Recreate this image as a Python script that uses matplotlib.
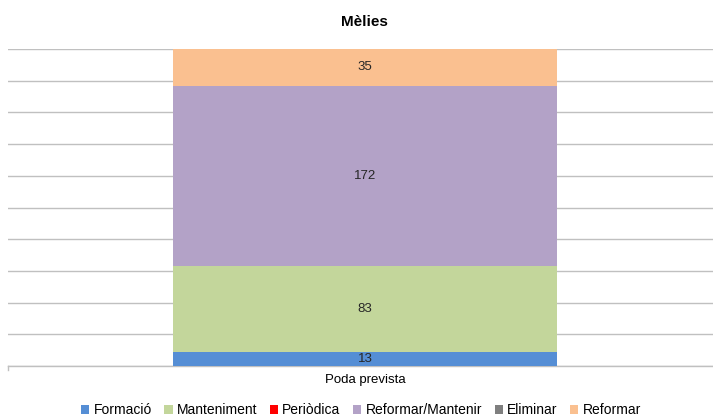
import matplotlib
matplotlib.use('Agg')
import matplotlib.pyplot as plt
from matplotlib.patches import Patch
import numpy as np

plt.rcParams['font.family'] = ['Liberation Sans', 'DejaVu Sans']

# ── Data ──────────────────────────────────────────────────────────────────────
category = 'Poda prevista'
series   = ['Formació', 'Manteniment', 'Periòdica', 'Reformar/Mantenir', 'Eliminar', 'Reformar']
values   = [13, 83, 0, 172, 0, 35]
colors   = ['#558ED5', '#C3D69B', '#FF0000', '#B3A2C7', '#7F7F7F', '#FAC090']

total = sum(values)
shares = [100.0 * v / total for v in values]

fig = plt.figure(figsize=(7.13, 4.17), dpi=100)
ax = fig.add_axes([8 / 713, 51 / 417, 705 / 713, 317 / 417])

bottom = 0.0
for name, v, pct, color in zip(series, values, shares, colors):
    if v > 0:
        ax.bar(0, pct, width=0.545, bottom=bottom, color=color, zorder=3)
        ax.text(0, bottom + pct / 2, str(v), ha='center', va='center',
                fontsize=9.5, color='#262626', zorder=4)
    bottom += pct

ax.set_xlim(-0.5064, 0.4936)
ax.set_ylim(0, 100)
ax.set_yticks(np.arange(0, 101, 10))
ax.yaxis.grid(True, color='#C0C0C0', linewidth=1.0, zorder=0)
ax.tick_params(axis='y', length=0, labelleft=False)
ax.set_xticks([0])
ax.set_xticklabels([category], fontsize=9.5)
ax.tick_params(axis='x', length=0, pad=6)
for side in ['top', 'right', 'left']:
    ax.spines[side].set_visible(False)
ax.spines['bottom'].set_color('#C0C0C0')
ax.spines['bottom'].set_linewidth(1.0)
ax.plot([-0.5064, -0.5064], [0, -1.3], color='#C0C0C0', lw=1.0, clip_on=False)

fig.text(364 / 713, 1 - 22 / 417, 'Mèlies', ha='center', va='center',
         fontsize=11, fontweight='bold')

handles = [Patch(facecolor=c, edgecolor='none') for c in colors]
fig.legend(handles, series, loc='center', bbox_to_anchor=(361 / 713, 1 - 410 / 417),
           ncol=6, frameon=False, fontsize=10, handlelength=0.6, handleheight=0.6,
           handletextpad=0.3, columnspacing=0.9, borderpad=0)

fig.savefig('out.png', dpi=100)
